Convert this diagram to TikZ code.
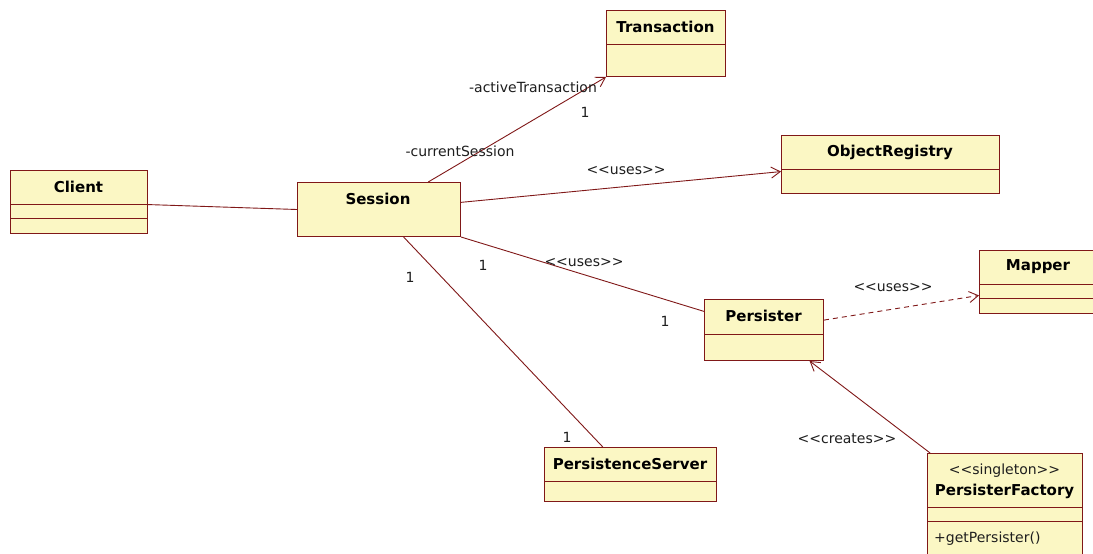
\documentclass[tikz,border=0pt]{standalone}
\usepackage{fontspec}
\setmainfont{DejaVu Sans}
\usetikzlibrary{arrows.meta,calc}
\definecolor{umlline}{RGB}{128,24,24}
\definecolor{umlfill}{RGB}{251,247,196}
\definecolor{umltext}{RGB}{30,30,30}
\newcommand\stLL{<\kern0pt<\kern0pt}
\newcommand\stGG{\kern0pt>\kern0pt>}
\tikzset{
  classbox/.style={draw=umlline, fill=umlfill, line width=1pt, inner sep=0pt, anchor=north west},
  title/.style={font=\fontsize{15}{17}\selectfont\bfseries, text=black, inner sep=0pt},
  lbl/.style={font=\fontsize{14}{16}\selectfont, text=umltext, inner sep=0pt},
  assoc/.style={draw=umlline, line width=0.9pt},
  nav/.style={assoc, -{Straight Barb[length=9pt,width=11pt]}},
  dep/.style={nav, dash pattern=on 5pt off 4pt},
  divider/.style={draw=umlline, line width=1pt},
}
\begin{document}
\begin{tikzpicture}[x=1pt,y=-1pt]
\useasboundingbox (0,0) rectangle (1093,554);
\clip (0,0) rectangle (1093,554);
\fill[white] (0,0) rectangle (1093,554);

% Client
\node[classbox, minimum width=137pt, minimum height=63pt] (client) at (10,170) {};
\draw[divider] (10,204) -- (147,204);
\draw[divider] (10,218) -- (147,218);
\node[title] (clientT) at (78.5,187) {Client};

% Transaction
\node[classbox, minimum width=119pt, minimum height=66pt] (trans) at (606,10) {};
\draw[divider] (606,44) -- (725,44);
\node[title] (transT) at (665.5,27) {Transaction};

% Session
\node[classbox, minimum width=163pt, minimum height=54pt] (session) at (297,182) {};
\node[title] (sessionT) at (378,199) {Session};

% ObjectRegistry
\node[classbox, minimum width=218pt, minimum height=58pt] (objreg) at (781,135) {};
\draw[divider] (781,169) -- (999,169);
\node[title] (objregT) at (890,152) {ObjectRegistry};

% Persister
\node[classbox, minimum width=119pt, minimum height=61pt] (persister) at (704,299) {};
\draw[divider] (704,334) -- (823,334);
\node[title] (persisterT) at (763.5,316) {Persister};

% Mapper
\node[classbox, minimum width=125pt, minimum height=63pt] (mapper) at (979,250) {};
\draw[divider] (979,284) -- (1104,284);
\draw[divider] (979,298) -- (1104,298);
\node[title] (mapperT) at (1038,267) {Mapper};

% PersistenceServer
\node[classbox, minimum width=172pt, minimum height=54pt] (pserver) at (544,447) {};
\draw[divider] (544,481) -- (716,481);
\node[title] (pserverT) at (630,464) {PersistenceServer};

% PersisterFactory
\node[classbox, minimum width=155pt, minimum height=107pt] (pfactory) at (927,453) {};
\draw[divider] (927,507) -- (1082,507);
\draw[divider] (927,521) -- (1082,521);
\node[lbl] (pfactoryS) at (1004.5,471) {\stLL singleton\stGG};
\node[title] (pfactoryT) at (1004.5,491) {PersisterFactory};
\node[lbl, anchor=west] (pfactoryO) at (934,539) {+getPersister()};

% connectors
\draw[assoc] ($(client.north east)!0.54!(client.south east)$) -- (session.west);
\draw[nav] ($(session.north west)!0.8!(session.north east)$) -- (trans.south west);
\draw[nav] ($(session.north east)!0.37!(session.south east)$) -- ($(objreg.north west)!0.62!(objreg.south west)$);
\draw[assoc] (session.south east) -- ($(persister.north west)!0.2!(persister.south west)$);
\draw[assoc] ($(session.south west)!0.65!(session.south east)$) -- ($(pserver.north west)!0.34!(pserver.north east)$);
\draw[dep] ($(persister.north east)!0.34!(persister.south east)$) -- ($(mapper.north west)!0.71!(mapper.south west)$);
\draw[nav] ($(pfactory.north west)!0.02!(pfactory.north east)$) -- ($(persister.south west)!0.88!(persister.south east)$);

% labels
\node[lbl] (lActive) at (533,87) {-activeTransaction};
\node[lbl] (lOneT) at (585,112) {1};
\node[lbl] (lCurrent) at (460,151) {-currentSession};
\node[lbl] (lUsesOR) at (626,171) {\stLL uses\stGG};
\node[lbl] (lUsesP) at (584,263) {\stLL uses\stGG};
\node[lbl] (lOneS1) at (483,265) {1};
\node[lbl] (lOneP) at (665,321) {1};
\node[lbl] (lOneS2) at (410,277) {1};
\node[lbl] (lOnePS) at (567,437) {1};
\node[lbl] (lUsesM) at (893,288) {\stLL uses\stGG};
\node[lbl] (lCreates) at (847,439) {\stLL creates\stGG};
\end{tikzpicture}
\end{document}
